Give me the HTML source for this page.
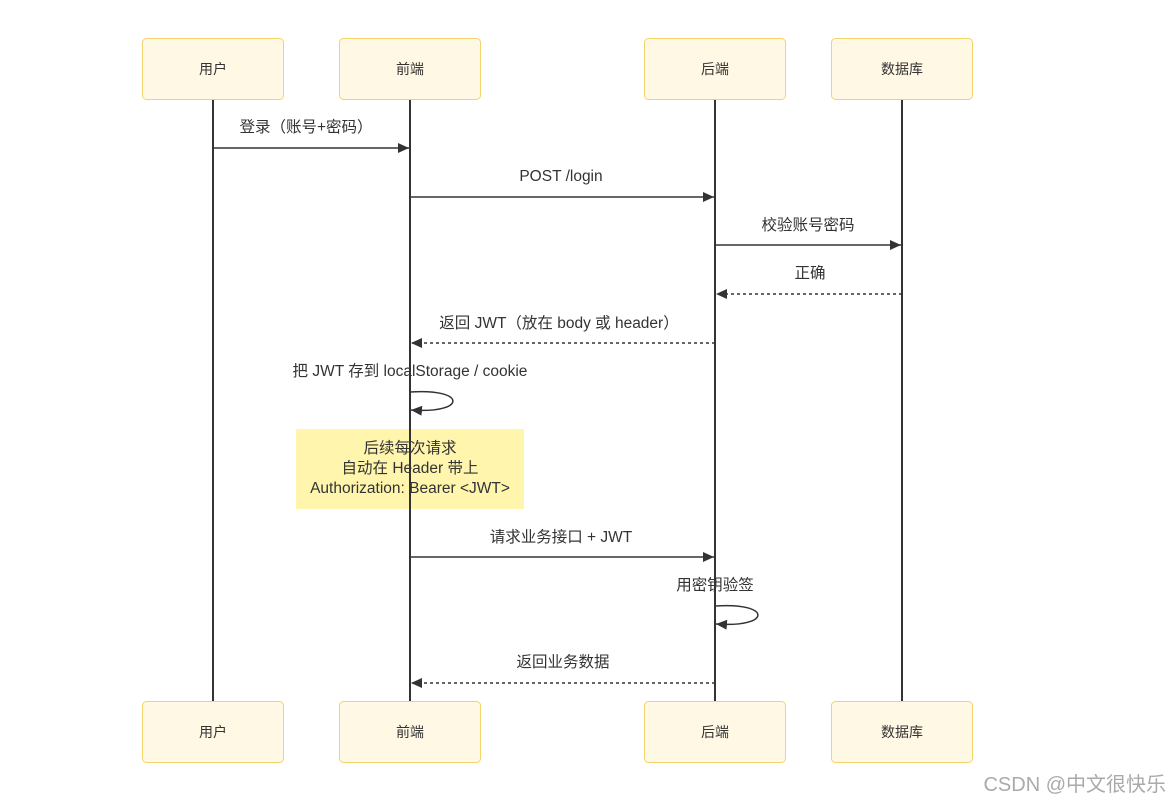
<!DOCTYPE html>
<html><head><meta charset="utf-8"><style>
body{margin:0;background:#fff;}
svg text{font-family:"Liberation Sans","Noto Sans CJK SC",sans-serif;font-size:15.5px;fill:#333;}
svg text.b{font-size:14px;}
</style></head><body>
<svg width="1170" height="804" xmlns="http://www.w3.org/2000/svg">
<defs>
<marker id="a" markerWidth="12" markerHeight="10" refX="11" refY="5" orient="auto" markerUnits="userSpaceOnUse"><path d="M0,0 L11,5 L0,10 z" fill="#333"/></marker>
</defs>
<g fill="#fff8e5" stroke="#f5d36b" stroke-width="1">
<rect x="142.5" y="38.5" width="141" height="61" rx="4"/>
<rect x="339.5" y="38.5" width="141" height="61" rx="4"/>
<rect x="644.5" y="38.5" width="141" height="61" rx="4"/>
<rect x="831.5" y="38.5" width="141" height="61" rx="4"/>
<rect x="142.5" y="701.5" width="141" height="61" rx="4"/>
<rect x="339.5" y="701.5" width="141" height="61" rx="4"/>
<rect x="644.5" y="701.5" width="141" height="61" rx="4"/>
<rect x="831.5" y="701.5" width="141" height="61" rx="4"/>
</g>
<g text-anchor="middle">
<text class="b" x="213" y="74">用户</text><text class="b" x="410" y="74">前端</text><text class="b" x="715" y="74">后端</text><text class="b" x="902" y="74">数据库</text>
<text class="b" x="213" y="737">用户</text><text class="b" x="410" y="737">前端</text><text class="b" x="715" y="737">后端</text><text class="b" x="902" y="737">数据库</text>
</g>
<rect x="296" y="429" width="228" height="80" fill="#fff5ad"/>
<g stroke="#333" stroke-width="2">
<line x1="213" y1="100" x2="213" y2="701"/>
<line x1="410" y1="100" x2="410" y2="701"/>
<line x1="715" y1="100" x2="715" y2="701"/>
<line x1="902" y1="100" x2="902" y2="701"/>
</g>
<g stroke="#333" stroke-width="1.5" fill="none">
<line x1="213" y1="148" x2="409" y2="148" marker-end="url(#a)"/>
<line x1="410" y1="197" x2="714" y2="197" marker-end="url(#a)"/>
<line x1="715" y1="245" x2="901" y2="245" marker-end="url(#a)"/>
<line x1="902" y1="294" x2="716" y2="294" stroke-dasharray="3,3" marker-end="url(#a)"/>
<line x1="715" y1="343" x2="411" y2="343" stroke-dasharray="3,3" marker-end="url(#a)"/>
<path d="M410,392 C467,388 467,414 411,410" marker-end="url(#a)"/>
<line x1="410" y1="557" x2="714" y2="557" marker-end="url(#a)"/>
<path d="M715,606 C772,602 772,628 716,624" marker-end="url(#a)"/>
<line x1="715" y1="683" x2="411" y2="683" stroke-dasharray="3,3" marker-end="url(#a)"/>
</g>
<g text-anchor="middle">
<text x="306" y="132">登录（账号+密码）</text>
<text x="561" y="181">POST /login</text>
<text x="808" y="230">校验账号密码</text>
<text x="810" y="278">正确</text>
<text x="559" y="328">返回 JWT（放在 body 或 header）</text>
<text x="410" y="376">把 JWT 存到 localStorage / cookie</text>
<text x="410" y="453">后续每次请求</text>
<text x="410" y="473">自动在 Header 带上</text>
<text x="410" y="493">Authorization: Bearer &lt;JWT&gt;</text>
<text x="561" y="542">请求业务接口 + JWT</text>
<text x="715" y="590">用密钥验签</text>
<text x="563" y="667">返回业务数据</text>
</g>
<text x="1166" y="791" text-anchor="end" style="font-size:20px;fill:#aaa">CSDN @中文很快乐</text>
</svg>
</body></html>
